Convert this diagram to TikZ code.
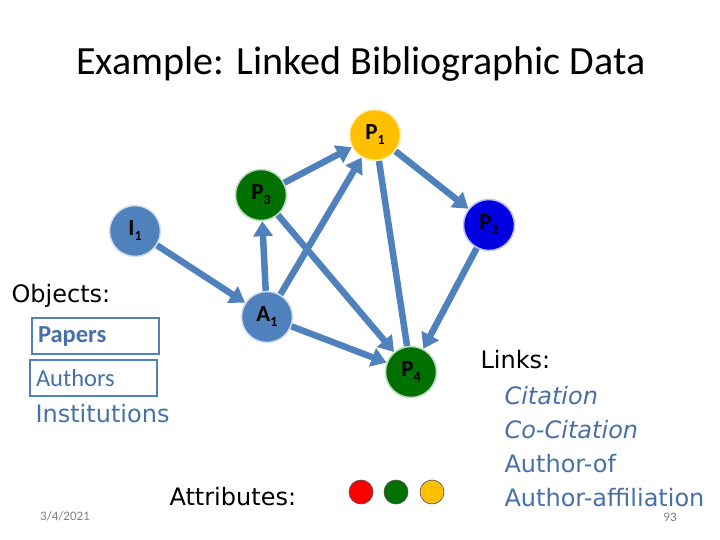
\documentclass[tikz,border=0pt]{standalone}
\usepackage{fontspec}
\setmainfont{Carlito}
\newfontfamily\comicfont{DejaVu Sans}
\usepackage{tikz}
\usetikzlibrary{arrows.meta, positioning}
\definecolor{linkblue}{RGB}{79,129,189}
\definecolor{textblue}{RGB}{72,112,168}
\definecolor{pgreen}{RGB}{0,112,0}
\definecolor{pyellow}{RGB}{255,192,0}
\definecolor{pblue}{RGB}{0,0,225}
\definecolor{datagray}{RGB}{128,128,128}
\newcommand{\nodeidx}[1]{\raisebox{-0.45ex}{\fontsize{14}{14}\selectfont #1}}
\tikzset{
  obj/.style      = {circle, minimum size=51pt, inner sep=0pt, fill=#1,
                     draw=#1!25, line width=1.5pt,
                     font=\fontsize{23}{23}\selectfont\bfseries},
  kindbox/.style  = {rectangle, draw=linkblue, line width=2pt, anchor=west,
                     minimum width=127pt, minimum height=36pt,
                     text=textblue, align=left, text width=115pt,
                     inner xsep=6pt},
  comic/.style    = {anchor=west, font=\comicfont\fontsize{24}{27}\selectfont},
  attr/.style     = {circle, minimum size=24pt, inner sep=0pt, fill=#1,
                     draw=black!70, line width=0.6pt},
  link/.style     = {-{Triangle[length=15pt,width=19pt]}, line width=6.5pt,
                     color=linkblue},
  plainlink/.style= {line width=6.5pt, color=linkblue},
}
\begin{document}
\begin{tikzpicture}[x=1pt, y=-1pt]
  \useasboundingbox (0,0) rectangle (720,540);
  \node[font=\fontsize{40}{44}\selectfont] (title) at (361,64)
    {Example: Linked Bibliographic Data};

  % objects of the graph
  \node[obj=pyellow] (p1) at (375,135) {P\nodeidx{1}};
  \node[obj=pgreen]  (p3) at (261,195) {P\nodeidx{3}};
  \node[obj=pblue]   (p2) at (489,225) {P\nodeidx{2}};
  \node[obj=linkblue] (i1) at (135,231) {I\nodeidx{1}};
  \node[obj=linkblue] (a1) at (267,317) {A\nodeidx{1}};
  \node[obj=pgreen]  (p4) at (411,372) {P\nodeidx{4}};

  \draw[link] (p3) -- (p1);
  \draw[link] (a1) -- (p1);
  \draw[link] (p1) -- (p2);
  \draw[plainlink] (p1) -- (p4);
  \draw[link] (p2) -- (p4);
  \draw[link] (p3) -- (p4);
  \draw[link] (a1) -- (p4);
  \draw[link] (a1) -- (p3);
  \draw[link] (i1) -- (a1);

  % legend
  \node[comic] (objects) at (8,296) {Objects:};
  \node[kindbox, font=\fontsize{24.5}{27}\selectfont\bfseries] (papers) at (31,336) {Papers};
  \node[kindbox, font=\fontsize{24.5}{27}\selectfont] (authors) at (29,378) {Authors};
  \node[comic, text=textblue] (inst) at (32,414) {Institutions};

  \node[comic] (links) at (477,360) {Links:};
  \node[comic, text=textblue] (cite) at (501,396) {\itshape Citation};
  \node[comic, text=textblue] (cocite) at (501,430) {\itshape Co-Citation};
  \node[comic, text=textblue] (authof) at (501,464) {Author-of};
  \node[comic, text=textblue] (authaff) at (501,498) {Author-affiliation};

  \node[comic] (attrs) at (166,497) {Attributes:};
  \node[attr=red]     (ared)    at (361,492) {};
  \node[attr=pgreen]  (agreen)  at (396,492) {};
  \node[attr=pyellow] (ayellow) at (432,492) {};

  \node[font=\fontsize{13}{13}\selectfont, text=datagray] (date) at (65,516) {3/4/2021};
  \node[font=\fontsize{13}{13}\selectfont, text=datagray] (pageno) at (670,517) {93};
\end{tikzpicture}
\end{document}
